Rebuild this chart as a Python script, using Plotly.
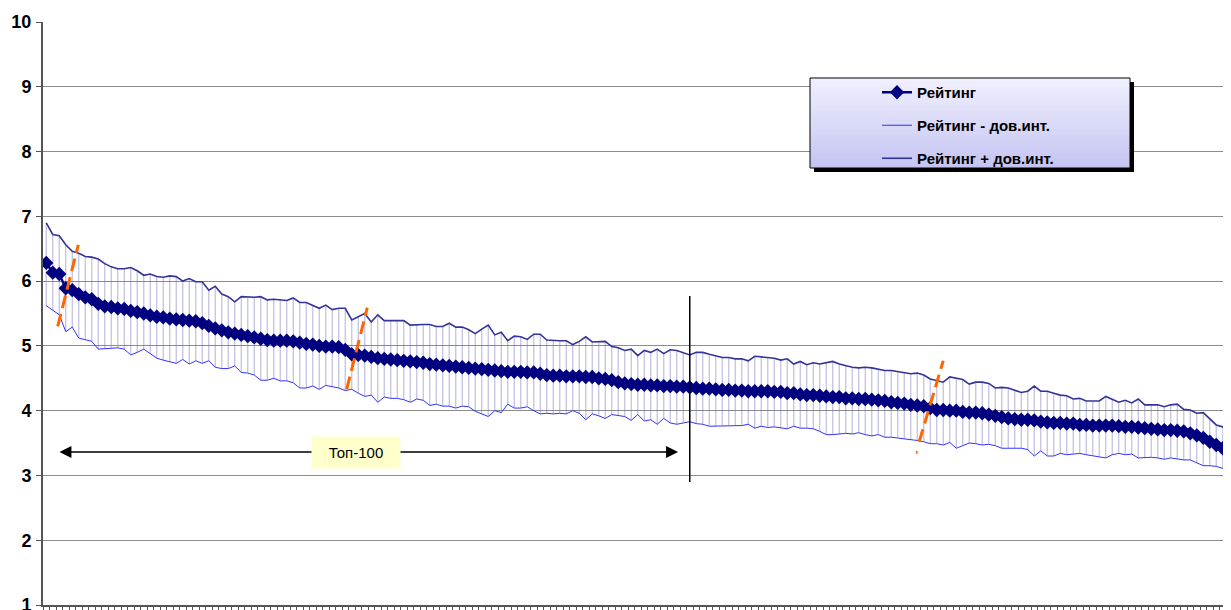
import plotly.graph_objects as go

# ---------------- data ----------------
rating = [
    6.28, 6.13, 6.11, 5.89, 5.86, 5.80, 5.75, 5.72, 5.65, 5.61,
    5.60, 5.58, 5.57, 5.54, 5.52, 5.50, 5.47, 5.45, 5.44, 5.42,
    5.41, 5.40, 5.39, 5.38, 5.35, 5.31, 5.27, 5.24, 5.21, 5.19,
    5.17, 5.15, 5.13, 5.11, 5.09, 5.08, 5.08, 5.08, 5.07, 5.05,
    5.03, 5.02, 5.00, 4.99, 4.99, 4.98, 4.94, 4.87, 4.86, 4.85,
    4.83, 4.81, 4.80, 4.79, 4.78, 4.77, 4.76, 4.75, 4.74, 4.72,
    4.71, 4.70, 4.69, 4.68, 4.67, 4.66, 4.65, 4.64, 4.63, 4.62,
    4.61, 4.60, 4.60, 4.60, 4.59, 4.59, 4.57, 4.55, 4.54, 4.54,
    4.53, 4.53, 4.53, 4.52, 4.52, 4.50, 4.49, 4.47, 4.44, 4.42,
    4.41, 4.40, 4.40, 4.39, 4.39, 4.38, 4.38, 4.37, 4.37, 4.36,
    4.35, 4.34, 4.34, 4.33, 4.32, 4.32, 4.31, 4.31, 4.30, 4.30,
    4.30, 4.30, 4.29, 4.29, 4.27, 4.27, 4.25, 4.24, 4.24, 4.23,
    4.22, 4.21, 4.21, 4.19, 4.19, 4.18, 4.18, 4.17, 4.16, 4.15,
    4.13, 4.12, 4.11, 4.09, 4.08, 4.07, 4.04, 4.01, 4.01, 4.00,
    4.00, 3.98, 3.97, 3.97, 3.96, 3.94, 3.92, 3.90, 3.88, 3.87,
    3.86, 3.86, 3.85, 3.83, 3.82, 3.81, 3.81, 3.80, 3.80, 3.78,
    3.78, 3.77, 3.77, 3.77, 3.77, 3.76, 3.75, 3.75, 3.74, 3.73,
    3.72, 3.71, 3.70, 3.70, 3.69, 3.68, 3.65, 3.62, 3.58, 3.52,
    3.47, 3.42, 3.37,
]

upper = [
    6.90, 6.72, 6.70, 6.56, 6.46, 6.43, 6.38, 6.37, 6.34, 6.27,
    6.22, 6.19, 6.19, 6.21, 6.16, 6.09, 6.11, 6.07, 6.06, 6.08,
    6.07, 6.00, 6.04, 5.99, 5.99, 5.86, 5.92, 5.80, 5.76, 5.68,
    5.76, 5.75, 5.75, 5.76, 5.71, 5.72, 5.71, 5.70, 5.74, 5.67,
    5.67, 5.63, 5.58, 5.63, 5.56, 5.58, 5.58, 5.40, 5.45, 5.50,
    5.37, 5.48, 5.39, 5.39, 5.39, 5.39, 5.32, 5.33, 5.33, 5.33,
    5.30, 5.30, 5.35, 5.29, 5.29, 5.25, 5.19, 5.26, 5.32, 5.17,
    5.21, 5.08, 5.15, 5.14, 5.10, 5.18, 5.18, 5.09, 5.08, 5.08,
    5.08, 5.02, 5.07, 5.14, 5.06, 5.07, 5.07, 4.99, 4.97, 4.93,
    4.95, 4.85, 4.93, 4.90, 4.95, 4.88, 4.94, 4.93, 4.90, 4.86,
    4.90, 4.90, 4.87, 4.84, 4.82, 4.82, 4.80, 4.80, 4.77, 4.84,
    4.83, 4.81, 4.81, 4.78, 4.80, 4.72, 4.76, 4.71, 4.74, 4.72,
    4.74, 4.76, 4.72, 4.69, 4.67, 4.66, 4.67, 4.66, 4.64, 4.62,
    4.62, 4.60, 4.59, 4.57, 4.58, 4.55, 4.49, 4.46, 4.44, 4.52,
    4.50, 4.48, 4.41, 4.44, 4.44, 4.42, 4.35, 4.36, 4.35, 4.32,
    4.28, 4.30, 4.38, 4.30, 4.30, 4.27, 4.24, 4.23, 4.18, 4.19,
    4.15, 4.15, 4.15, 4.22, 4.17, 4.13, 4.16, 4.12, 4.18, 4.09,
    4.09, 4.09, 4.06, 4.09, 4.10, 4.02, 4.01, 3.96, 3.97, 3.88,
    3.78, 3.75, 3.70,
]

lower = [
    5.62, 5.55, 5.48, 5.22, 5.29, 5.12, 5.10, 5.07, 4.95, 4.96,
    4.97, 4.97, 4.95, 4.86, 4.90, 4.95, 4.88, 4.81, 4.78, 4.76,
    4.73, 4.79, 4.72, 4.77, 4.73, 4.77, 4.67, 4.65, 4.65, 4.69,
    4.59, 4.58, 4.55, 4.47, 4.47, 4.50, 4.46, 4.46, 4.43, 4.35,
    4.35, 4.38, 4.33, 4.39, 4.37, 4.35, 4.31, 4.33, 4.27, 4.22,
    4.24, 4.13, 4.21, 4.19, 4.19, 4.17, 4.13, 4.18, 4.16, 4.08,
    4.10, 4.07, 4.07, 4.04, 4.07, 4.06, 3.99, 3.95, 3.91, 4.00,
    3.97, 4.10, 4.04, 4.04, 4.06, 4.00, 3.95, 3.96, 3.95, 3.96,
    3.95, 4.00, 3.96, 3.86, 3.95, 3.92, 3.88, 3.94, 3.92, 3.91,
    3.85, 3.94, 3.84, 3.86, 3.79, 3.88, 3.81, 3.79, 3.81, 3.83,
    3.80, 3.79, 3.76, 3.76, 3.77, 3.77, 3.77, 3.77, 3.79, 3.73,
    3.76, 3.74, 3.75, 3.73, 3.72, 3.76, 3.73, 3.73, 3.72, 3.68,
    3.63, 3.63, 3.64, 3.65, 3.64, 3.66, 3.63, 3.61, 3.63, 3.59,
    3.59, 3.58, 3.56, 3.55, 3.54, 3.52, 3.49, 3.49, 3.47, 3.51,
    3.42, 3.46, 3.50, 3.49, 3.47, 3.48, 3.46, 3.42, 3.42, 3.42,
    3.42, 3.40, 3.30, 3.38, 3.30, 3.30, 3.34, 3.32, 3.33, 3.34,
    3.32, 3.30, 3.29, 3.27, 3.32, 3.34, 3.32, 3.33, 3.27, 3.28,
    3.28, 3.27, 3.25, 3.27, 3.25, 3.24, 3.24, 3.19, 3.15, 3.15,
    3.14, 3.11, 3.01,
]

positions = list(range(len(rating)))
y_ticks = list(range(1, 11))
y_range = [1, 10]

series_names = ["Рейтинг", "Рейтинг - дов.инт.", "Рейтинг + дов.инт."]

# annotation elements (data coordinates)
top_label = "Топ-100"
top_arrow_x = [1.8, 97.2]
top_arrow_y = 3.36
top_label_x = 47.7
divider_x = 99
divider_y = [2.90, 5.77]
orange_marks = [
    ([1.76, 4.93], [5.30, 6.56]),
    ([46.22, 49.39], [4.33, 5.59]),
    ([134.3, 138.0], [3.52, 4.77]),
    ([133.8, 134.05], [3.355, 3.36]),
]

# ---------------- layout geometry ----------------
# the page body has an 8px margin; page pixel = OFF + figure pixel
OFF = 8
W, H = 1231 - OFF, 610 - OFF
PLOT_L, PLOT_T, PLOT_R, PLOT_B = 43, 22, 1231, 605   # page pixels
ML, MT = PLOT_L - OFF, PLOT_T - OFF
MR = (OFF + W) - PLOT_R
MB = (OFF + H) - PLOT_B
PW, PH = PLOT_R - PLOT_L, PLOT_B - PLOT_T
STEP = 6.5  # pixels per category


def xp(px):
    return (px - PLOT_L) / PW


def yp(py):
    return 1 - (py - PLOT_T) / PH


FONT = "Liberation Sans, Arial, sans-serif"

fig = go.Figure()

# hi-lo lines between lower and upper bounds
hx, hy = [], []
for i, lo, hi in zip(positions, lower, upper):
    hx += [i, i, None]
    hy += [lo, hi, None]
fig.add_trace(go.Scatter(
    x=hx, y=hy, mode="lines", showlegend=False, hoverinfo="skip",
    line=dict(color="rgba(110,110,185,0.45)", width=1.2),
))

fig.add_trace(go.Scatter(
    x=positions, y=lower, name=series_names[1], mode="lines",
    line=dict(color="#3333FF", width=1), legendrank=2, legendgroup="b",
))
fig.add_trace(go.Scatter(
    x=positions, y=upper, name=series_names[2], mode="lines",
    line=dict(color="#333399", width=1.6), legendrank=3, legendgroup="c",
))
fig.add_trace(go.Scatter(
    x=positions, y=rating, name=series_names[0], mode="lines+markers",
    line=dict(color="#000080", width=2.5),
    marker=dict(symbol="diamond", size=11, color="#000080"),
    legendrank=1, legendgroup="a",
))

shapes = []
# legend box: shadow, gradient, border
bx0, by0, bx1, by1 = 810, 78, 1130, 168
shapes.append(dict(type="rect", xref="paper", yref="paper", layer="above",
                   x0=xp(bx0 + 4), x1=xp(bx1 + 4), y0=yp(by0 + 4), y1=yp(by1 + 4),
                   fillcolor="black", line=dict(width=0)))
nstrip = 30
c_top = (240, 240, 254)
c_bot = (196, 196, 242)
for k in range(nstrip):
    t = k / (nstrip - 1)
    c = tuple(round(a + (b - a) * t) for a, b in zip(c_top, c_bot))
    y0 = by0 + (by1 - by0) * k / nstrip
    y1 = by0 + (by1 - by0) * (k + 1) / nstrip + 0.6
    shapes.append(dict(type="rect", xref="paper", yref="paper", layer="above",
                       x0=xp(bx0), x1=xp(bx1), y0=yp(y0), y1=yp(min(y1, by1)),
                       fillcolor="rgb(%d,%d,%d)" % c, line=dict(width=0)))
shapes.append(dict(type="rect", xref="paper", yref="paper", layer="above",
                   x0=xp(bx0), x1=xp(bx1), y0=yp(by0), y1=yp(by1),
                   fillcolor="rgba(0,0,0,0)", line=dict(color="black", width=1)))

# divider line at the 100th position
shapes.append(dict(type="line", xref="x", yref="y", layer="above",
                   x0=divider_x, x1=divider_x, y0=divider_y[0], y1=divider_y[1],
                   line=dict(color="black", width=1.5)))
# orange dashed marks
for xs, ys in orange_marks:
    shapes.append(dict(type="line", xref="x", yref="y", layer="above",
                       x0=xs[0], x1=xs[1], y0=ys[0], y1=ys[1],
                       line=dict(color="#FF6600", width=3, dash="13px,6px")))

fig.update_layout(shapes=shapes)

# double-headed arrow
fig.add_annotation(
    x=top_arrow_x[1], y=top_arrow_y, ax=top_arrow_x[0], ay=top_arrow_y,
    xref="x", yref="y", axref="x", ayref="y", text="",
    showarrow=True, arrowside="end+start", arrowhead=2, startarrowhead=2,
    arrowsize=1.6, startarrowsize=1.6, arrowwidth=1.5, arrowcolor="black",
)
fig.add_annotation(
    x=top_label_x, y=top_arrow_y, xref="x", yref="y", text=top_label,
    showarrow=False, bgcolor="#FFFFCC", width=86, height=29,
    font=dict(family=FONT, size=15, color="black"),
)

fig.update_layout(
    width=W, height=H,
    margin=dict(l=ML, r=MR, t=MT, b=MB, pad=0, autoexpand=False),
    paper_bgcolor="white", plot_bgcolor="white",
    showlegend=True,
    legend=dict(
        x=xp(877), y=yp(76), xanchor="left", yanchor="top",
        bgcolor="rgba(0,0,0,0)", borderwidth=0,
        traceorder="grouped", tracegroupgap=10.5, itemwidth=30,
        font=dict(family=FONT, size=15, color="black", weight="bold"),
    ),
    xaxis=dict(
        range=[-0.5, -0.5 + PW / STEP], showgrid=False, zeroline=False,
        showticklabels=False, tickmode="linear", tick0=-0.5, dtick=1,
        ticks="outside", ticklen=5, tickwidth=1, tickcolor="#555555",
        showline=True, linecolor="#555555", linewidth=2,
    ),
    yaxis=dict(
        range=y_range, tickvals=y_ticks, ticktext=[str(v) for v in y_ticks],
        showgrid=True, gridcolor="#8c8c8c", gridwidth=1, zeroline=False,
        ticks="outside", ticklen=5, tickwidth=1, tickcolor="#555555",
        showline=True, linecolor="#555555", linewidth=2,
        tickfont=dict(family=FONT, size=18, color="black", weight="bold"),
        ticklabelstandoff=1, ticklabeloverflow="allow",
    ),
)

fig.write_html("out.html")
